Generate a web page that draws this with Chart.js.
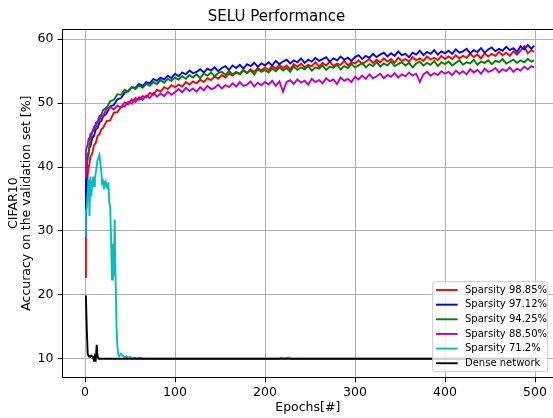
<!DOCTYPE html>
<html><head><meta charset="utf-8">
<script src="https://cdn.jsdelivr.net/npm/chart.js@4/dist/chart.umd.min.js"></script>
<style>html,body{margin:0;padding:0;background:#fff;overflow:hidden}canvas{display:block}</style>
</head><body>
<canvas id="c" width="553" height="418"></canvas>
<script>
const chartTitle = 'SELU Performance';
const xAxisTitle = 'Epochs[#]';
const yAxisTitle = ['CIFAR10', 'Accuracy on the validation set [%]'];
const seriesLabels = ['Sparsity 98.85%', 'Sparsity 97.12%', 'Sparsity 94.25%', 'Sparsity 88.50%', 'Sparsity 71.2%', 'Dense network'];
const seriesColors = ['#ff0000', '#0000ff', '#008000', '#bf00bf', '#00bfbf', '#000000'];
const xTickValues = [0, 100, 200, 300, 400, 500];
const yTickValues = [10, 20, 30, 40, 50, 60];

const epochs = [0,1,2,3,4,5,6,8,10,12,14,16,18,
  20,24,28,32,36,40,44,48,52,56,60,64,68,72,76,80,84,88,92,96,100,
  104,108,112,116,120,124,128,132,136,140,144,148,152,156,160,164,168,172,176,180,184,188,192,196,200,
  204,208,212,216,220,224,228,232,236,240,244,248,252,256,260,264,268,272,276,280,284,288,292,296,300,
  304,308,312,316,320,324,328,332,336,340,344,348,352,356,360,364,368,372,376,380,384,388,392,396,400,
  404,408,412,416,420,424,428,432,436,440,444,448,452,456,460,464,468,472,476,480,484,488,492,496,499];

const sparsity9885 = [22.8,31.5,36.2,38.8,39.9,40.6,41.6,42.1,43.4,43.8,44.9,45.1,45.9,
  46.1,47.2,47.3,48.5,48.6,49.4,49.5,50.2,49.9,50.8,50.5,51.1,50.9,51.6,51.3,52.1,51.8,52.5,52.2,52.8,52.5,
  52.9,52.6,53.3,52.9,53.4,53.1,53.7,53.3,53.9,53.6,54.2,53.8,54.4,54.0,54.6,54.3,54.8,54.5,55.1,54.7,55.3,54.9,55.5,55.1,55.6,
  55.2,55.8,55.4,56.0,55.5,55.9,55.3,56.1,55.7,56.2,55.6,56.0,55.8,56.4,55.7,56.3,55.9,56.5,55.8,56.2,56.0,56.6,55.9,56.4,56.2,
  56.7,56.1,56.5,56.9,56.3,56.8,56.4,57.0,56.5,56.9,56.3,57.1,56.6,56.9,56.5,57.2,56.7,57.0,56.6,57.3,56.8,57.1,56.7,57.4,56.9,
  57.3,56.9,57.5,57.0,57.4,57.1,57.7,57.2,57.6,57.0,57.8,57.3,57.7,57.4,58.0,57.5,57.9,57.4,58.1,57.6,58.2,58.9,57.8,58.3,58.0];

const sparsity9712 = [29.2,37.4,40.1,41.6,42.0,43.1,43.2,44.5,44.9,45.9,46.1,47.0,47.2,
  47.9,48.4,49.5,49.7,50.6,50.8,51.6,51.9,52.5,52.4,53.0,52.7,53.3,53.1,53.8,53.5,54.0,53.7,54.3,53.9,54.6,
  54.2,54.8,54.5,55.1,54.7,54.9,55.3,54.8,55.4,55.1,55.6,55.0,55.5,55.8,55.2,55.9,55.5,56.0,55.4,56.1,55.8,56.3,55.7,56.2,55.9,
  56.4,55.9,56.6,56.1,56.5,56.8,56.2,56.7,56.4,57.0,56.3,56.8,56.5,57.1,56.6,56.9,57.2,56.5,57.0,56.7,57.3,56.8,57.1,56.6,57.2,
  57.5,56.9,57.4,57.1,57.7,57.2,57.6,57.9,57.3,57.8,57.4,58.1,57.5,57.7,57.2,57.9,57.6,58.2,57.5,58.0,57.7,58.3,57.6,58.1,57.8,
  58.2,57.7,58.4,57.9,58.1,58.5,57.8,58.3,58.0,58.6,57.9,58.4,58.7,58.1,58.5,58.2,58.8,58.3,58.6,58.0,58.9,58.4,59.1,58.5,59.0];

const sparsity9425 = [38.8,39.6,40.6,41.9,42.4,43.5,43.9,45.4,45.8,46.9,47.1,48.0,48.1,
  48.9,49.3,50.3,50.5,51.4,51.3,52.1,51.8,52.5,52.2,52.8,52.4,53.0,52.7,53.3,53.0,53.6,53.2,53.8,53.5,54.0,
  53.7,54.2,53.8,54.4,54.0,54.5,53.9,54.6,54.3,54.8,54.2,54.7,54.9,54.4,55.0,54.5,54.9,54.6,55.2,54.7,55.1,54.5,55.3,54.9,55.2,
  54.8,55.4,55.0,55.6,55.1,55.5,54.9,55.7,55.2,55.6,55.3,55.8,55.1,55.6,55.4,55.9,55.2,55.7,55.5,56.0,55.3,55.8,55.5,56.1,55.6,
  55.9,56.3,55.6,56.1,55.8,56.4,55.7,56.2,55.9,56.5,55.8,56.1,56.4,55.9,56.3,55.6,56.2,56.5,55.9,56.3,56.0,56.6,55.8,56.4,56.1,
  56.5,55.9,56.3,56.7,56.0,56.4,56.2,56.8,56.0,56.5,56.3,56.7,56.1,56.6,56.4,56.9,56.2,56.5,56.8,56.3,56.7,56.4,56.9,56.5,56.7];

const sparsity8850 = [38.5,42.6,43.1,43.5,44.4,44.3,45.2,45.4,46.3,46.2,47.2,47.3,48.1,
  48.0,49.1,49.4,49.0,49.6,49.3,50.1,49.8,50.6,50.2,50.9,50.5,51.2,50.8,51.6,51.0,51.5,51.1,51.8,51.3,51.7,
  52.2,51.7,52.4,51.9,52.3,51.8,52.5,52.0,52.7,52.2,52.4,52.9,52.3,52.8,52.5,53.1,52.6,53.3,52.7,52.9,53.4,52.6,53.2,52.8,53.3,
  52.9,53.5,52.7,53.4,51.8,53.3,53.6,53.0,53.7,53.2,53.5,52.9,53.8,53.3,53.6,53.1,53.9,53.4,53.7,53.0,54.0,53.5,53.8,53.3,54.1,
  53.7,54.3,53.8,54.5,53.9,54.2,54.6,53.9,54.4,54.1,54.7,54.0,54.5,54.2,54.8,54.3,54.6,53.3,54.5,54.9,54.3,54.7,54.4,55.0,54.6,
  54.9,54.4,55.1,54.6,55.0,54.5,55.3,54.8,55.2,54.6,55.4,54.9,55.1,55.5,54.8,55.3,55.0,55.6,54.9,55.4,55.1,55.7,55.3,55.8,55.6];

const cyanEpochs = [0,1,2,3,4,5,6,7,8,9,10,11,12,13,14,15,16,17,18,19,20,21,22,23,24,25,26,27,28,29,30,31,32,33,34,35,36,37,38,40,42,44,46,48,50,52,55,58,60,65,215,218,221,226,229,499];
const sparsity712 = [29.2,33.0,33.8,36.0,38.0,32.3,38.5,35.4,37.0,38.5,37.0,38.2,39.1,40.2,41.1,41.5,41.9,40.7,39.5,37.5,37.8,36.5,37.3,37.7,36.9,36.7,37.6,34.4,33.8,28.6,22.4,28.0,22.9,31.8,22.4,15.1,12.0,10.7,10.4,10.8,10.5,10.2,10.4,10.1,10.3,10.0,10.2,10.0,10.2,10.0,10.0,10.2,10.0,10.2,10.0,10.0];

const denseEpochs = [0,1,2,3,4,5,6,7,8,9,10,11,12,13,14,15,16,499];
const denseNetwork = [19.5,19.9,14.5,10.8,10.4,10.4,10.3,10.5,10.4,10.3,9.7,10.3,10.0,12.2,10.4,10.0,10.0,10.0];

const seriesX = [epochs, epochs, epochs, epochs, cyanEpochs, denseEpochs];
const seriesY = [sparsity9885, sparsity9712, sparsity9425, sparsity8850, sparsity712, denseNetwork];

const FONT = 'DejaVu Sans';
Chart.defaults.font.family = FONT;
Chart.defaults.color = '#000';

const datasets = seriesLabels.map((label, i) => ({
  label,
  data: seriesX[i].map((x, j) => ({x, y: seriesY[i][j]})),
  borderColor: seriesColors[i],
  backgroundColor: seriesColors[i],
  borderWidth: 1.9,
  pointRadius: 0,
  tension: 0,
  fill: false,
  order: seriesLabels.length - 1 - i
}));

const frameAndLegend = {
  id: 'frameAndLegend',
  afterDraw(chart) {
    const {ctx, chartArea: a} = chart;
    ctx.save();
    ctx.strokeStyle = '#000';
    ctx.lineWidth = 1;
    const ty = Math.round(a.top) + 0.5;
    ctx.beginPath(); ctx.moveTo(a.left, ty); ctx.lineTo(a.right, ty); ctx.stroke();
    const w = 115, h = 90;
    const bx = a.right - 5.3 - w, by = a.bottom - 5.6 - h;
    ctx.beginPath();
    ctx.roundRect(bx, by, w, h, 2.5);
    ctx.fillStyle = 'rgba(255,255,255,0.8)';
    ctx.fill();
    ctx.strokeStyle = '#cccccc';
    ctx.lineWidth = 1;
    ctx.stroke();
    ctx.font = '10px ' + FONT;
    ctx.textBaseline = 'middle';
    ctx.textAlign = 'left';
    chart.data.datasets.forEach((ds, i) => {
      const y = by + 8.3 + i * 14.65;
      ctx.strokeStyle = ds.borderColor;
      ctx.lineWidth = 1.9;
      ctx.beginPath(); ctx.moveTo(bx + 3.3, y); ctx.lineTo(bx + 25, y); ctx.stroke();
      ctx.fillStyle = '#000';
      ctx.fillText(ds.label, bx + 32.3, y);
    });
    ctx.restore();
  }
};

new Chart(document.getElementById('c'), {
  type: 'line',
  data: {datasets},
  options: {
    responsive: false,
    animation: false,
    devicePixelRatio: 1,
    layout: {padding: 0},
    plugins: {
      legend: {display: false},
      tooltip: {enabled: false},
      title: {display: true, text: chartTitle, color: '#000', font: {size: 15, weight: 'normal', family: FONT}, padding: {top: 8, bottom: 3}}
    },
    scales: {
      x: {
        type: 'linear', min: -25, max: 520,
        afterFit: s => { s.height = 40.7; },
        afterBuildTicks: s => { s.ticks = xTickValues.map(v => ({value: v})); },
        ticks: {font: {size: 12.5}, color: '#000', padding: 3, maxRotation: 0, autoSkip: false},
        grid: {color: '#b0b0b0', lineWidth: 1, tickLength: 5, tickColor: '#000'},
        border: {color: '#000', width: 1},
        title: {display: true, text: xAxisTitle, font: {size: 12.5}, color: '#000', padding: {top: 0, bottom: 2.4}}
      },
      y: {
        type: 'linear', min: 7.1, max: 61.6,
        afterFit: s => { s.width = 62.5; },
        afterBuildTicks: s => { s.ticks = yTickValues.map(v => ({value: v})); },
        ticks: {font: {size: 12.5}, color: '#000', padding: 4},
        grid: {color: '#b0b0b0', lineWidth: 1, tickLength: 5, tickColor: '#000'},
        border: {color: '#000', width: 1},
        title: {display: true, text: yAxisTitle, font: {size: 12.5, lineHeight: 1.05}, color: '#000', padding: {top: 7.4, bottom: 0}}
      }
    }
  },
  plugins: [frameAndLegend]
});
</script>
</body></html>
